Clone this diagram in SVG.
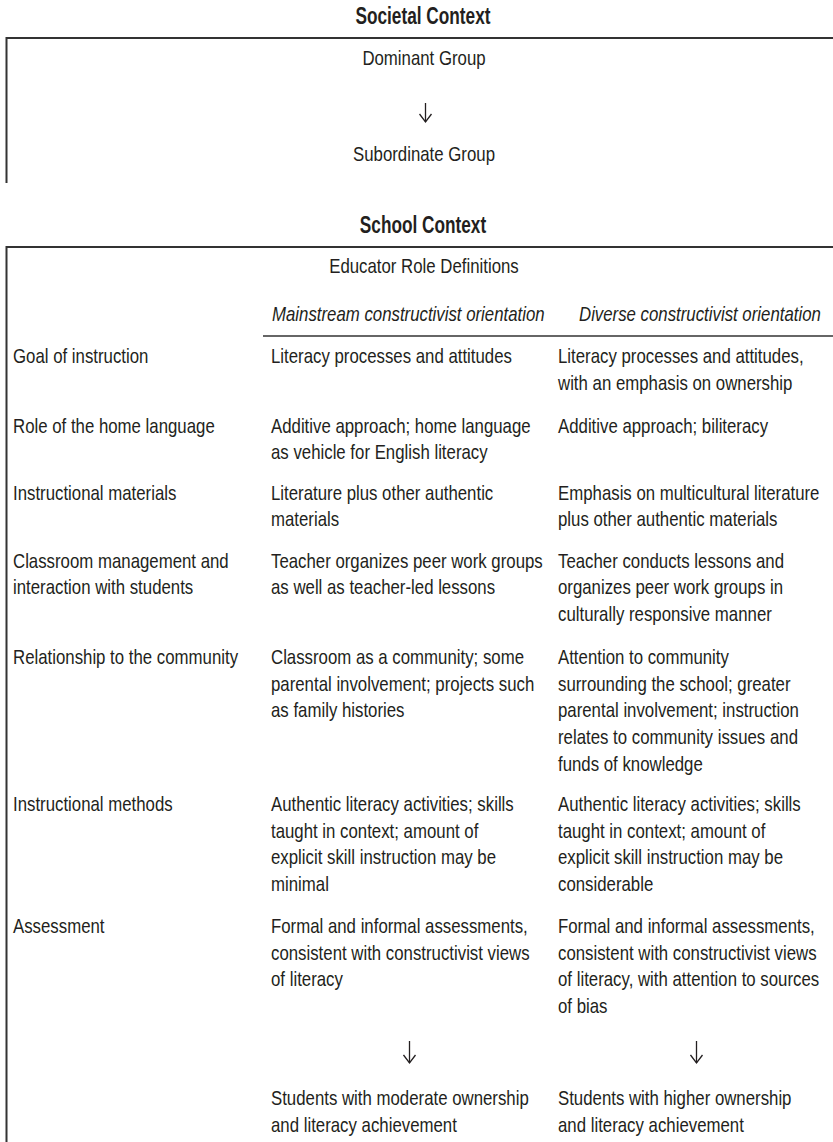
<svg xmlns="http://www.w3.org/2000/svg" width="833" height="1142" viewBox="0 0 833 1142">
<style>
text{font-family:"Liberation Sans Narrow","Liberation Sans",Arial,sans-serif;font-size:20.5px;fill:#231f20}
.t{font-weight:bold;font-size:23px;text-anchor:middle}
.c{text-anchor:middle}
.i{font-style:italic}
.frame{stroke:#333;stroke-width:2;fill:none}
.thin{stroke:#333;stroke-width:1.4;fill:none}
.arr{stroke:#231f20;stroke-width:1.3;fill:none;marker-end:url(#head)}
</style>
<defs>
<marker id="head" markerUnits="userSpaceOnUse" markerWidth="14" markerHeight="14" refX="10" refY="7" orient="auto" viewBox="0 0 14 14">
<path d="M2,1 L10,7 L2,13" fill="none" stroke="#231f20" stroke-width="1.3"/>
</marker>
</defs>
<g id="frames">
<path class="frame" d="M833,38 H6.5 V183"/>
<path class="frame" d="M833,247 H6.5 V1142"/>
<path class="thin" d="M263,336 H833"/>
</g>
<g id="societal-context"><text class="t" transform="matrix(0.75 0 0 1 423 24)" x="0" y="0">Societal Context</text></g>
<g id="dominant-group"><text class="c" transform="matrix(0.82 0 0 1 424 65)" x="0" y="0">Dominant Group</text></g>
<g id="subordinate-group"><text class="c" transform="matrix(0.82 0 0 1 424 161)" x="0" y="0">Subordinate Group</text></g>
<g id="school-context"><text class="t" transform="matrix(0.75 0 0 1 423 233)" x="0" y="0">School Context</text></g>
<g id="educator-role-definitions"><text class="c" transform="matrix(0.82 0 0 1 424 273)" x="0" y="0">Educator Role Definitions</text></g>
<g id="header">
<text class="i" transform="matrix(0.82 0 0 1 272 321)" x="0" y="0">Mainstream constructivist orientation</text>
<text class="i" transform="matrix(0.82 0 0 1 579 321)" x="0" y="0">Diverse constructivist orientation</text>
</g>
<g id="row-goal">
<text transform="matrix(0.82 0 0 1 13 363)" x="0" y="0">Goal of instruction</text>
<text transform="matrix(0.82 0 0 1 271 363)" x="0" y="0">Literacy processes and attitudes</text>
<text transform="matrix(0.82 0 0 1 558 363)" x="0" y="0">Literacy processes and attitudes,<tspan x="0" dy="27">with an emphasis on ownership</tspan></text>
</g>
<g id="row-home-language">
<text transform="matrix(0.82 0 0 1 13 433)" x="0" y="0">Role of the home language</text>
<text transform="matrix(0.82 0 0 1 271 433)" x="0" y="0">Additive approach; home language<tspan x="0" dy="26.5">as vehicle for English literacy</tspan></text>
<text transform="matrix(0.82 0 0 1 558 433)" x="0" y="0">Additive approach; biliteracy</text>
</g>
<g id="row-materials">
<text transform="matrix(0.82 0 0 1 13 500)" x="0" y="0">Instructional materials</text>
<text transform="matrix(0.82 0 0 1 271 500)" x="0" y="0">Literature plus other authentic<tspan x="0" dy="26.5">materials</tspan></text>
<text transform="matrix(0.82 0 0 1 558 500)" x="0" y="0">Emphasis on multicultural literature<tspan x="0" dy="26.5">plus other authentic materials</tspan></text>
</g>
<g id="row-classroom">
<text transform="matrix(0.82 0 0 1 13 568)" x="0" y="0">Classroom management and<tspan x="0" dy="26.5">interaction with students</tspan></text>
<text transform="matrix(0.82 0 0 1 271 568)" x="0" y="0">Teacher organizes peer work groups<tspan x="0" dy="26.5">as well as teacher-led lessons</tspan></text>
<text transform="matrix(0.82 0 0 1 558 568)" x="0" y="0">Teacher conducts lessons and<tspan x="0" dy="26.5">organizes peer work groups in</tspan><tspan x="0" dy="26.5">culturally responsive manner</tspan></text>
</g>
<g id="row-community">
<text transform="matrix(0.82 0 0 1 13 664)" x="0" y="0">Relationship to the community</text>
<text transform="matrix(0.82 0 0 1 271 664)" x="0" y="0">Classroom as a community; some<tspan x="0" dy="26.75">parental involvement; projects such</tspan><tspan x="0" dy="26.75">as family histories</tspan></text>
<text transform="matrix(0.82 0 0 1 558 664)" x="0" y="0">Attention to community<tspan x="0" dy="26.75">surrounding the school; greater</tspan><tspan x="0" dy="26.75">parental involvement; instruction</tspan><tspan x="0" dy="26.75">relates to community issues and</tspan><tspan x="0" dy="26.75">funds of knowledge</tspan></text>
</g>
<g id="row-methods">
<text transform="matrix(0.82 0 0 1 13 811)" x="0" y="0">Instructional methods</text>
<text transform="matrix(0.82 0 0 1 271 811)" x="0" y="0">Authentic literacy activities; skills<tspan x="0" dy="26.7">taught in context; amount of</tspan><tspan x="0" dy="26.7">explicit skill instruction may be</tspan><tspan x="0" dy="26.7">minimal</tspan></text>
<text transform="matrix(0.82 0 0 1 558 811)" x="0" y="0">Authentic literacy activities; skills<tspan x="0" dy="26.7">taught in context; amount of</tspan><tspan x="0" dy="26.7">explicit skill instruction may be</tspan><tspan x="0" dy="26.7">considerable</tspan></text>
</g>
<g id="row-assessment">
<text transform="matrix(0.82 0 0 1 13 933)" x="0" y="0">Assessment</text>
<text transform="matrix(0.82 0 0 1 271 933)" x="0" y="0">Formal and informal assessments,<tspan x="0" dy="26.7">consistent with constructivist views</tspan><tspan x="0" dy="26.7">of literacy</tspan></text>
<text transform="matrix(0.82 0 0 1 558 933)" x="0" y="0">Formal and informal assessments,<tspan x="0" dy="26.7">consistent with constructivist views</tspan><tspan x="0" dy="26.7">of literacy, with attention to sources</tspan><tspan x="0" dy="26.7">of bias</tspan></text>
</g>
<g id="outcome-mainstream">
<text transform="matrix(0.82 0 0 1 271 1105)" x="0" y="0">Students with moderate ownership<tspan x="0" dy="27">and literacy achievement</tspan></text>
</g>
<g id="outcome-diverse">
<text transform="matrix(0.82 0 0 1 558 1105)" x="0" y="0">Students with higher ownership<tspan x="0" dy="27">and literacy achievement</tspan></text>
</g>
<g id="connectors">
<path class="arr" d="M425.5,103 V122"/>
<path class="arr" d="M409.5,1041 V1063"/>
<path class="arr" d="M696.5,1041 V1063"/>
</g>
</svg>
